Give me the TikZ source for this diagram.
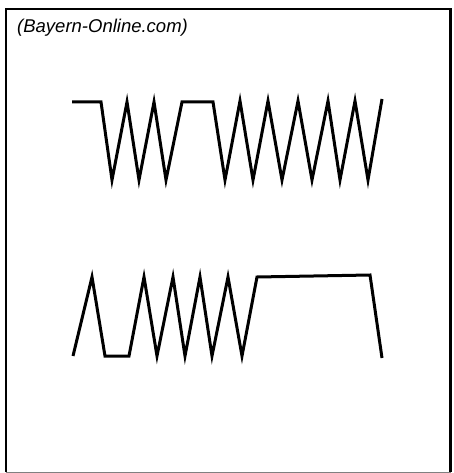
\documentclass[tikz,border=0pt]{standalone}
\usepackage{fontspec}
\setmainfont{Liberation Sans}
\begin{document}
\begin{tikzpicture}[x=1pt,y=-1pt,
  wave/.style={line width=3pt,line join=miter,black},
  frame/.style={line width=2.6pt,black}]
\useasboundingbox (0,0) rectangle (454,473);
\fill[white] (0,0) rectangle (454,473);
% frame
\draw[frame] (6,472) -- (6,9) -- (450.5,9) -- (450.5,472);
\draw[line width=1.2pt,gray] (6,472.4) -- (450.5,472.4);
% caption
\node[anchor=base west,inner sep=0pt,font=\fontsize{18.5}{22}\selectfont\itshape] (src) at (17,33) {(Bayern-Online.com)};
% upper waveform
\draw[wave] (72,102) -- (101,102) -- (112,180) -- (127,102) -- (139,180) -- (154,102)
  -- (166,180) -- (182,102) -- (213,102) -- (225,180) -- (240,101) -- (253,180)
  -- (268,101) -- (282,180) -- (298,101) -- (312,180) -- (328,101) -- (340,180)
  -- (355,101) -- (368,180) -- (382,99);
% lower waveform
\draw[wave] (73,356) -- (92,277) -- (105,356) -- (129,356) -- (144,277) -- (157,356)
  -- (173,277) -- (185,356) -- (200,277) -- (212,356) -- (228,277) -- (242,356)
  -- (257,277) -- (370,275) -- (382,358);
\end{tikzpicture}
\end{document}
